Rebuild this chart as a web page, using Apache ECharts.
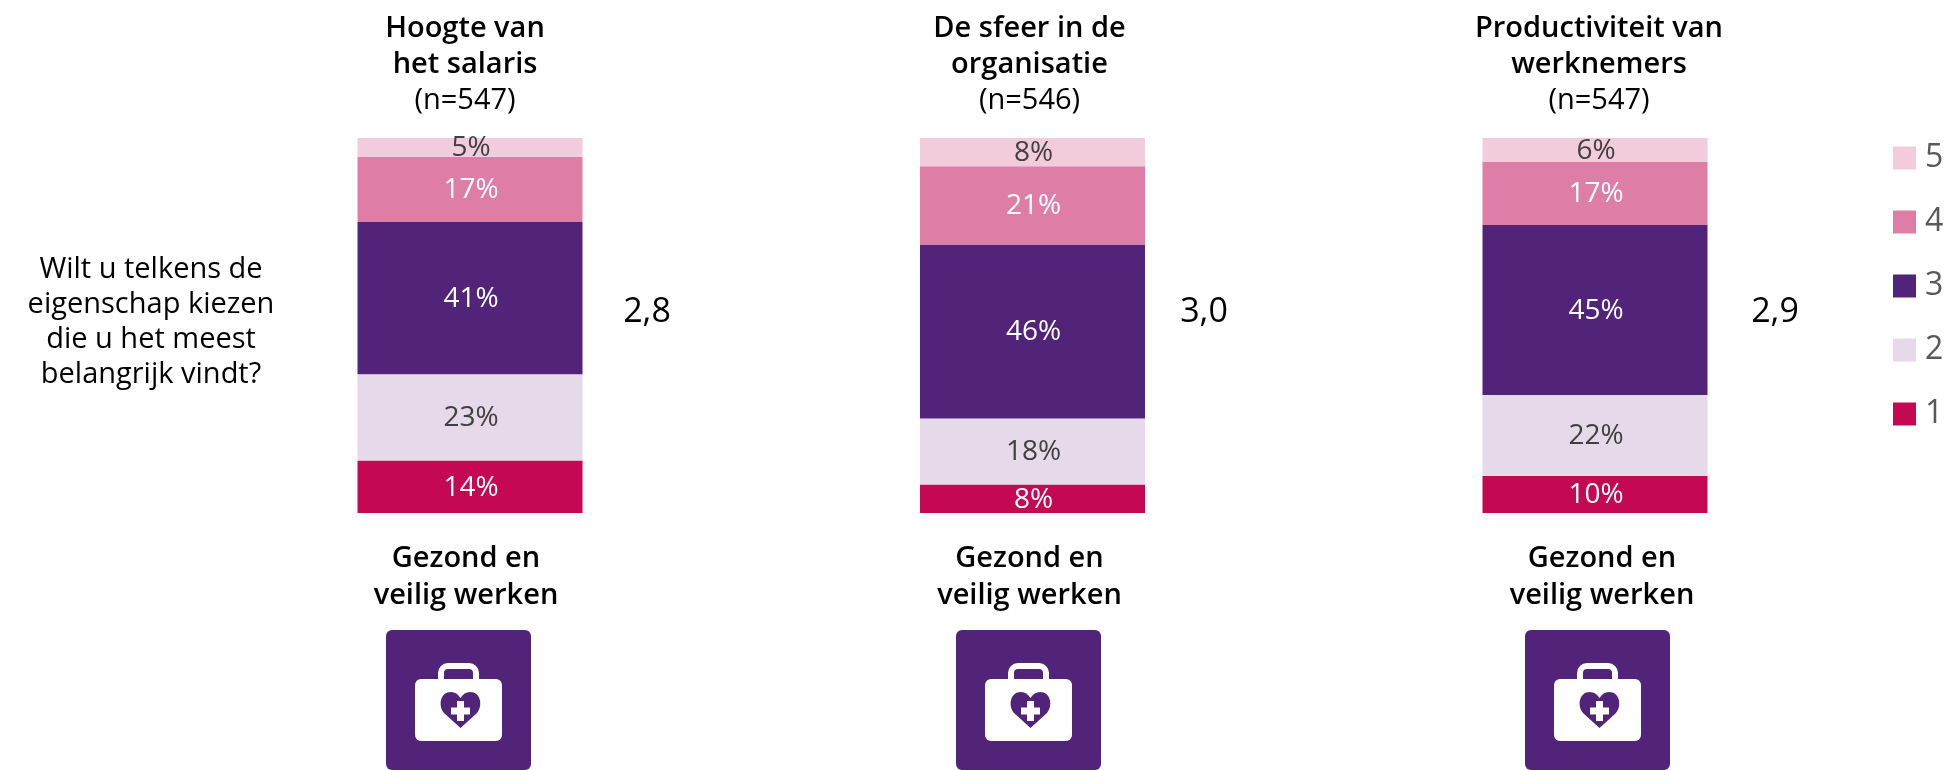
<!DOCTYPE html>
<html>
<head>
<meta charset="utf-8">
<style>
  html, body { margin: 0; padding: 0; background: #fff; }
  #chart { width: 1947px; height: 770px; }
</style>
<script src="https://cdn.jsdelivr.net/npm/echarts@6/dist/echarts.min.js"></script>
</head>
<body>
<div id="chart"></div>
<script>
// data
const topTitles = ["Hoogte van\nhet salaris", "De sfeer in de\norganisatie", "Productiviteit van\nwerknemers"];
const sampleSizes = [547, 546, 547];
const bottomTitles = ["Gezond en\nveilig werken", "Gezond en\nveilig werken", "Gezond en\nveilig werken"];
const question = "Wilt u telkens de\neigenschap kiezen\ndie u het meest\nbelangrijk vindt?";
const means = ["2,8", "3,0", "2,9"];
const score1 = [14, 7.6, 9.9];
const score2 = [23, 17.6, 21.6];
const score3 = [40.6, 46.4, 45.3];
const score4 = [17.4, 20.9, 16.8];
const score5 = [5, 7.5, 6.4];

const fontName = "'Open Sans', sans-serif";
const meanX = [647, 1204, 1775];
const iconX = [386, 956, 1525];
// the titles do not sit exactly over the bars in the original
const topShift = [-5, -3, 4];
const bottomShift = [-4, -3, 7];

// the graphic component has no plain path type, so register the heart as a shape
echarts.graphic.registerShape(
  "iconHeart",
  echarts.graphic.extendPath("M74.5 98 L58 83 C52 76 54 62 65 62 C69 62 72 64 74.5 68 C77 64 80 62 84 62 C95 62 97 76 91 83 Z", {})
);

function shiftedLabels(labels, shifts) {
  return labels.map((v, i) => ({
    value: v,
    textStyle: { padding: [0, Math.max(-2 * shifts[i], 0), 0, Math.max(2 * shifts[i], 0)] },
  }));
}

function barSeries(name, values, color, labelColor) {
  return {
    name: name,
    type: "bar",
    stack: "total",
    barWidth: 225,
    data: values,
    itemStyle: { color: color },
    label: {
      show: true,
      position: "inside",
      offset: [1, 1],
      color: labelColor,
      fontFamily: fontName,
      fontSize: 28,
      formatter: (p) => Math.round(p.value) + "%",
    },
  };
}

// icon drawn relative to the top-left corner of its square
function medicalIcon(x) {
  return {
    type: "group",
    x: x,
    y: 630,
    children: [
      { type: "rect", shape: { x: 0, y: 0, width: 145, height: 140, r: 6 }, style: { fill: "#51247a" } },
      { type: "rect", shape: { x: 55, y: 36, width: 35, height: 24, r: 7 }, style: { fill: "none", stroke: "#fff", lineWidth: 6 } },
      { type: "rect", shape: { x: 29, y: 49, width: 87, height: 62, r: 6 }, style: { fill: "#fff" } },
      { type: "iconHeart", shape: {}, style: { fill: "#51247a" } },
      { type: "rect", shape: { x: 65, y: 77.5, width: 19, height: 7 }, style: { fill: "#fff" } },
      { type: "rect", shape: { x: 71, y: 71, width: 7, height: 20 }, style: { fill: "#fff" } },
    ],
  };
}

const graphics = [
  {
    type: "text",
    x: 151,
    y: 322,
    style: {
      text: question,
      fill: "#000",
      font: "29px " + fontName,
      lineHeight: 35,
      align: "center",
      verticalAlign: "middle",
    },
  },
];
means.forEach((m, i) => {
  graphics.push({
    type: "text",
    x: meanX[i],
    y: 312,
    style: { text: m, fill: "#000", font: "34px " + fontName, align: "center", verticalAlign: "middle" },
  });
});
iconX.forEach((x) => graphics.push(medicalIcon(x)));

const chart = echarts.init(document.getElementById("chart"));
chart.setOption({
  animation: false,
  backgroundColor: "#fff",
  grid: { left: 188.75, width: 1687.5, top: 138, height: 375 },
  legend: {
    data: ["5", "4", "3", "2", "1"],
    orient: "vertical",
    left: 1893,
    top: 142,
    padding: 0,
    itemWidth: 23,
    itemHeight: 23,
    itemGap: 32,
    icon: "rect",
    textStyle: { color: "#595959", fontFamily: fontName, fontSize: 32, lineHeight: 23, padding: [0, 0, 8, 4] },
  },
  xAxis: [
    {
      type: "category",
      position: "top",
      data: shiftedLabels(topTitles, topShift),
      axisLine: { show: false },
      axisTick: { show: false },
      axisLabel: {
        margin: 19,
        interval: 0,
        formatter: (v, i) => "{b|" + v.replace("\n", "}\n{b|") + "}\n{n|(n=" + sampleSizes[i] + ")}",
        rich: {
          b: { fontFamily: fontName, fontSize: 29, fontWeight: 600, color: "#000", lineHeight: 36, align: "center" },
          n: { fontFamily: fontName, fontSize: 29, color: "#000", lineHeight: 36, align: "center" },
        },
      },
    },
    {
      type: "category",
      position: "bottom",
      data: shiftedLabels(bottomTitles, bottomShift),
      axisLine: { show: false },
      axisTick: { show: false },
      axisLabel: {
        margin: 27,
        interval: 0,
        fontFamily: fontName,
        fontSize: 29,
        fontWeight: 600,
        color: "#000",
        lineHeight: 37,
      },
    },
  ],
  yAxis: { type: "value", min: 0, max: 100, show: false },
  series: [
    barSeries("1", score1, "#c40852", "#fff"),
    barSeries("2", score2, "#e6d9ea", "#404040"),
    barSeries("3", score3, "#51247a", "#fff"),
    barSeries("4", score4, "#de7da6", "#fff"),
    barSeries("5", score5, "#f2cbdc", "#404040"),
  ],
  graphic: graphics,
});
</script>
</body>
</html>
